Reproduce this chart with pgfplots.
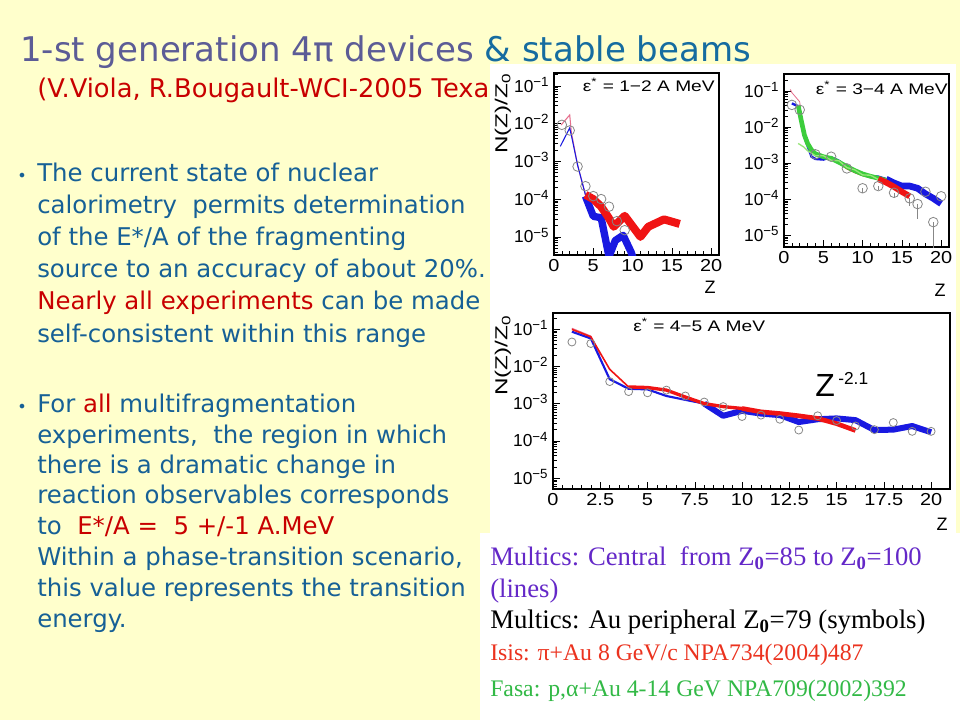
\documentclass[border=0pt]{standalone}
\usepackage{fontspec}
\setmainfont{Liberation Serif}
\newfontfamily\comic{DejaVu Sans}
\newfontfamily\arial{Liberation Sans}
\usepackage{pgfplots}
\pgfplotsset{compat=1.18}

\definecolor{bg}{RGB}{255,255,204}
\definecolor{titlegray}{RGB}{92,92,150}
\definecolor{titleblue}{RGB}{22,108,160}
\definecolor{txtblue}{RGB}{22,96,150}
\definecolor{txtred}{RGB}{200,0,0}
\definecolor{pred}{RGB}{240,20,20}
\definecolor{pblue}{RGB}{25,25,225}
\definecolor{ppink}{RGB}{230,110,140}
\definecolor{pgreen}{RGB}{60,205,60}
\definecolor{plgreen}{RGB}{150,230,120}
\definecolor{pbrown}{RGB}{170,80,40}
\definecolor{pgray}{RGB}{135,135,135}
\definecolor{legpurple}{RGB}{100,40,200}
\definecolor{legred}{RGB}{235,50,30}
\definecolor{leggreen}{RGB}{50,185,70}

\newcommand\ex[1]{10\textsuperscript{\fontsize{10}{10}\selectfont −#1}}

\pgfplotsset{
  /pgf/number format/assume math mode=true,
  every axis/.append style={
    scale only axis, xmin=0, xmax=21,
    axis line style={line width=1pt},
    tick align=inside, tick pos=left,
    major tick length=5.5pt, minor tick length=3pt,
    tick style={black, line width=0.4pt},
    ticklabel style={font=\arial\fontsize{13}{13}\selectfont},
    xticklabel style={xscale=1.15},
    yticklabel style={anchor=base east, yshift=-4.6pt},
    minor x tick num=4,
    ytick={1e-5,1e-4,1e-3,1e-2,1e-1},
    yticklabels={\ex{5},\ex{4},\ex{3},\ex{2},\ex{1}},
  },
  grcirc/.style={only marks, mark=o, mark size=#1, mark options={pgray, line width=0.6pt}},
}

\begin{document}
\begin{tikzpicture}
\begin{scope}[x=0.75pt,y=-0.75pt]
\useasboundingbox (0,0) rectangle (960,720);
\fill[bg] (0,0) rectangle (960,720);

% title and reference line
\node[anchor=base west, inner sep=0] at (20,62) {\comic\fontsize{25.5}{30}\selectfont
  \color{titlegray}1-st generation 4π devices \color{titleblue}\& stable beams};
\node[anchor=base west, inner sep=0, txtred] at (37,98) {\comic\fontsize{19.3}{22}\selectfont
  (V.Viola, R.Bougault-WCI-2005 Texas)};

% white panels of the figure and the caption box
\fill[white] (490,64) rectangle (956,533);
\fill[white] (480,533) rectangle (960,720);

% bullets
\begin{scope}[every node/.style={anchor=base west, inner sep=0, txtblue,
    font=\comic\fontsize{18.3}{22}\selectfont}]
\node at (17,182) {\fontsize{12}{12}\selectfont •};
\node at (37,182) {The current state of nuclear};
\node at (37,214) {calorimetry\ \ permits determination};
\node at (37,246) {of the E*/A of the fragmenting};
\node at (37,278) {source to an accuracy of about 20\%.};
\node at (37,310) {\color{txtred}Nearly all experiments \color{txtblue}can be made};
\node at (37,342) {self-consistent within this range};
\node at (17,412) {\fontsize{12}{12}\selectfont •};
\node at (37,412) {For \color{txtred}all \color{txtblue}multifragmentation};
\node at (37,443) {experiments,\ \ the region in which};
\node at (37,473) {there is a dramatic change in};
\node at (37,503) {reaction observables corresponds};
\node at (37,534) {to\ \ \color{txtred}E*/A =\ \ 5 +/-1 A.MeV};
\node at (37,565) {Within a phase-transition scenario,};
\node at (37,596) {this value represents the transition};
\node at (37,627) {energy.};
\end{scope}

% caption box
\begin{scope}[every node/.style={anchor=base west, inner sep=0}]
\node[legpurple] at (490,565) {\fontsize{20}{24}\selectfont Multics: Central\ \ from Z\textsubscript{\textbf{0}}=85 to Z\textsubscript{\textbf{0}}=100};
\node[legpurple] at (490,597) {\fontsize{20}{24}\selectfont (lines)};
\node[black] at (490,628) {\fontsize{20.1}{24}\selectfont Multics: Au peripheral Z\textsubscript{\textbf{0}}=79 (symbols)};
\node[legred] at (490,660) {\fontsize{17.8}{21}\selectfont Isis: π+Au 8 GeV/c NPA734(2004)487};
\node[leggreen] at (490,696) {\fontsize{17.8}{21}\selectfont Fasa: p,α+Au 4-14 GeV NPA709(2002)392};
\end{scope}

\coordinate (A1) at (554,255);
\coordinate (A2) at (784,247);
\coordinate (A3) at (553,489);
\end{scope}

% ---- epsilon* = 1-2 A MeV
\begin{axis}[at={(A1)}, anchor=south west, width=123.75pt, height=136.5pt,
  ymode=log, ymin=3.3e-6, ymax=0.22, xtick={0,5,...,20},
  minor ytick={4e-6,5e-6,6e-6,7e-6,8e-6,9e-6,2e-5,3e-5,4e-5,5e-5,6e-5,7e-5,8e-5,9e-5,
    2e-4,3e-4,4e-4,5e-4,6e-4,7e-4,8e-4,9e-4,2e-3,3e-3,4e-3,5e-3,6e-3,7e-3,8e-3,9e-3,
    2e-2,3e-2,4e-2,5e-2,6e-2,7e-2,8e-2,9e-2,2e-1}]
\addplot[grcirc=3.6pt] coordinates {(1,9.3e-3)(2,6.6e-3)(3,7.3e-4)(4,2.2e-4)(5,1.2e-4)(6,1.0e-4)(7,6.3e-5)(8,2.6e-5)(9,1.5e-5)};
\addplot[ppink, line width=0.8pt] coordinates {(0.9,9.2e-3)(2,1.7e-2)(2.2,6e-3)(3,8e-4)(4,1.3e-4)};
\addplot[pblue, line width=0.8pt] coordinates {(0.8,2.5e-3)(2,7.7e-3)(2.3,4e-3)(3,8e-4)(4,1.3e-4)};
\addplot[pblue, line width=5.5pt, line join=round] coordinates {(4,1.2e-4)(5,3.5e-5)(6,3.2e-5)(7,3e-6)(7.8,8e-6)(8.8,1.1e-5)(9.8,4e-6)(10.3,2e-6)};
\addplot[pred, line width=6pt, line join=round] coordinates {(4,1.3e-4)(5,1.0e-4)(6,6.3e-5)(7,3.1e-5)(7.6,1.85e-5)(9,3.6e-5)(11,1.0e-5)(12,1.85e-5)(14,2.9e-5)(16,2.2e-5)};
\end{axis}

% ---- epsilon* = 3-4 A MeV
\begin{axis}[at={(A2)}, anchor=south west, width=123.75pt, height=129.75pt,
  ymode=log, ymin=4.7e-6, ymax=0.295, xtick={0,5,...,20},
  minor ytick={5e-6,6e-6,7e-6,8e-6,9e-6,2e-5,3e-5,4e-5,5e-5,6e-5,7e-5,8e-5,9e-5,
    2e-4,3e-4,4e-4,5e-4,6e-4,7e-4,8e-4,9e-4,2e-3,3e-3,4e-3,5e-3,6e-3,7e-3,8e-3,9e-3,
    2e-2,3e-2,4e-2,5e-2,6e-2,7e-2,8e-2,9e-2,2e-1}]
\addplot[grcirc=3.6pt, error bars/y dir=minus, error bars/y explicit,
  error bars/error bar style={pgray, line width=0.5pt}, error bars/error mark=none]
  coordinates {(1,4.1e-2)(2,3.0e-2)(4,1.75e-3)(6,1.5e-3)(8,7.1e-4)
  (10,2.0e-4) -= (0,5e-5) (12,2.3e-4) -= (0,5e-5) (14,1.5e-4) -= (0,4e-5)
  (16,1.05e-4) -= (0,4e-5) (17,7.3e-5) -= (0,4.5e-5) (18,1.6e-4)
  (19,2.3e-5) -= (0,2.29e-5) (20,1.2e-4)};
\addplot[ppink, line width=0.6pt] coordinates {(0.8,0.11)(1,0.09)(2,0.05)(2.5,5e-3)};
\addplot[pblue, line width=1.8pt] coordinates {(1,4.5e-2)(1.8,3.8e-2)(2.5,6e-3)(3,3e-3)(3.5,1.5e-3)(4,1.3e-3)(5,1.25e-3)(6,1.45e-3)(7,1.15e-3)(8,8e-4)(9,5.8e-4)(10,5e-4)(11,4.4e-4)(12,4.2e-4)(13,3.6e-4)};
\addplot[pblue, line width=5pt] coordinates {(13,3.6e-4)(14,2.8e-4)(15,2.3e-4)(16,2.3e-4)(17,2e-4)(18,1.4e-4)(19,1.05e-4)(20,7.5e-5)};
\addplot[pbrown, line width=1.2pt] coordinates {(4,1.6e-3)(5,1.5e-3)(6,1.3e-3)(7,1.0e-3)(8,7e-4)(9,5.5e-4)(10,4.5e-4)(11,4e-4)(12,3.6e-4)};
\addplot[pgreen, line width=3.5pt, line join=round] coordinates {(1.8,4e-2)(2.2,1.5e-2)(2.6,6e-3)(3,3.5e-3)(3.5,2.3e-3)(4,1.8e-3)(5,1.5e-3)(6,1.35e-3)(7,1.05e-3)(8,8e-4)(9,6.2e-4)(10,5e-4)(11,4.3e-4)(12,3.8e-4)(13,3.3e-4)};
\addplot[plgreen, line width=1pt] coordinates {(1.8,3.5e-3)(2.5,2.8e-3)(3,2.2e-3)(4,1.6e-3)(5,1.6e-3)(6,1.2e-3)(7,1.15e-3)(8,7.5e-4)(9,6.5e-4)(10,4.7e-4)(11,4.6e-4)(12,3.5e-4)(13,3.5e-4)};
\addplot[pred, line width=4.5pt] coordinates {(12,3.6e-4)(13,2.9e-4)(14,2.2e-4)(15,1.6e-4)(16,1.2e-4)};
\end{axis}

% ---- epsilon* = 4-5 A MeV
\begin{axis}[at={(A3)}, anchor=south west, width=297.75pt, height=132pt,
  ymode=log, ymin=5.1e-6, ymax=0.27, xtick={0,2.5,...,20},
  minor ytick={6e-6,7e-6,8e-6,9e-6,2e-5,3e-5,4e-5,5e-5,6e-5,7e-5,8e-5,9e-5,
    2e-4,3e-4,4e-4,5e-4,6e-4,7e-4,8e-4,9e-4,2e-3,3e-3,4e-3,5e-3,6e-3,7e-3,8e-3,9e-3,
    2e-2,3e-2,4e-2,5e-2,6e-2,7e-2,8e-2,9e-2,2e-1}]
\addplot[grcirc=3pt] coordinates {(1,4.5e-2)(2,4.1e-2)(3,3.9e-3)(4,2.1e-3)(5,1.95e-3)(6,2.3e-3)(7,1.6e-3)(8,1.1e-3)(9,8.3e-4)(10,4.5e-4)(11,4.9e-4)(12,3.8e-4)(13,1.95e-4)(14,4.7e-4)(15,3.5e-4)(16,2.5e-4)(17,2e-4)(18,3.1e-4)(19,1.8e-4)(20,1.8e-4)};
\addplot[ppink, line width=0.8pt] coordinates {(1,1.05e-1)(2,6.5e-2)(2.5,2e-2)};
\addplot[pblue, line width=1.6pt] coordinates {(1,8.5e-2)(2,5.6e-2)(3,4.5e-3)(4,2.5e-3)(5,2.4e-3)(6,1.6e-3)(7,1.26e-3)(8,1.0e-3)};
\addplot[pblue, line width=4.5pt, line join=round] coordinates {(8,1.0e-3)(9,4.7e-4)(10,6.4e-4)(11,5.4e-4)(12,4.9e-4)(13,3.2e-4)(14,3.8e-4)(15,4.0e-4)(16,3.6e-4)(17,1.95e-4)(18,2.0e-4)(19,2.5e-4)(20,1.7e-4)};
\addplot[pred, line width=1.2pt] coordinates {(1,9.8e-2)(2,6.2e-2)(3,8.3e-3)(4,2.8e-3)};
\addplot[pred, line width=2.5pt] coordinates {(4,2.8e-3)(5,2.7e-3)(6,2.3e-3)(7,1.5e-3)(8,1.0e-3)(9,8.3e-4)(10,7.4e-4)};
\addplot[pred, line width=3.5pt] coordinates {(10,7.4e-4)(11,6e-4)(12,5.4e-4)(13,4.7e-4)(14,4.0e-4)(15,2.9e-4)(16,1.9e-4)};
\end{axis}

% labels of the three panels
\begin{scope}[x=0.75pt,y=-0.75pt, every node/.style={inner sep=0, font=\arial}]
\node[anchor=east, xscale=1.25] at (715,85) {\fontsize{11.5}{11}\selectfont ε\textsuperscript{*} = 1−2 A MeV};
\node[anchor=east, xscale=1.25] at (948,88) {\fontsize{11.5}{11}\selectfont ε\textsuperscript{*} = 3−4 A MeV};
\node[anchor=west, xscale=1.25] at (633,325) {\fontsize{11.5}{11}\selectfont ε\textsuperscript{*} = 4−5 A MeV};
\node[rotate=90, xscale=1.4, anchor=east] at (503,73) {\fontsize{13}{13}\selectfont N(Z)/Z\textsubscript{0}};
\node[rotate=90, xscale=1.4, anchor=east] at (503,315) {\fontsize{13}{13}\selectfont N(Z)/Z\textsubscript{0}};
\node at (710,287) {\fontsize{13.5}{13}\selectfont Z};
\node at (940,290) {\fontsize{13.5}{13}\selectfont Z};
\node at (942,524) {\fontsize{13.5}{13}\selectfont Z};
\node[anchor=base west] at (815,396) {\fontsize{24}{24}\selectfont Z};
\node[anchor=base west] at (838,384) {\fontsize{13}{13}\selectfont -2.1};
\end{scope}
\end{tikzpicture}
\end{document}
